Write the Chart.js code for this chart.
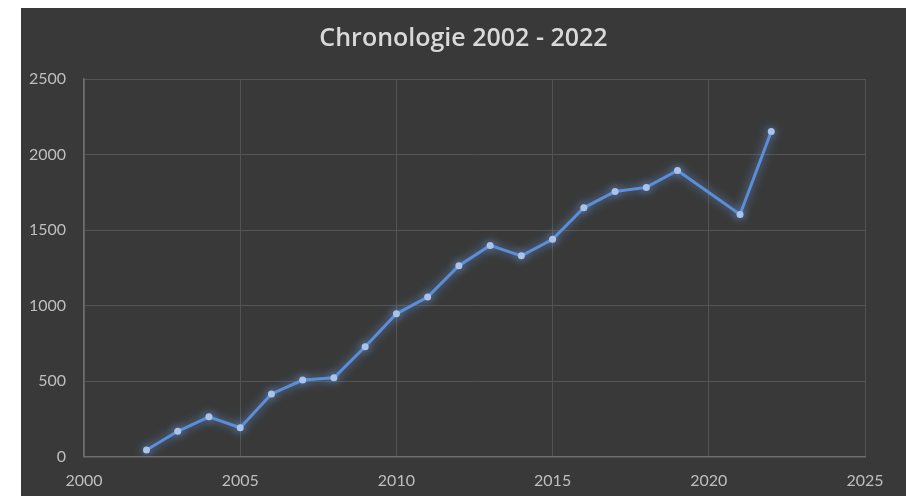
<!DOCTYPE html>
<html>
<head>
<meta charset="utf-8">
<script src="https://cdn.jsdelivr.net/npm/chart.js@4/dist/chart.umd.min.js"></script>
<style>
html,body{margin:0;padding:0;background:#ffffff;}
#wrap{position:absolute;left:21px;top:8px;width:885px;height:488px;background:#393939;}
canvas{display:block;}
</style>
</head>
<body>
<div id="wrap"><canvas id="c" width="885" height="488"></canvas></div>
<script>
const years  = [2002,2003,2004,2005,2006,2007,2008,2009,2010,2011,2012,2013,2014,2015,2016,2017,2018,2019,2020,2021,2022];
const values = [43,167,263,191,414,506,521,727,945,1056,1263,1398,1329,1439,1647,1755,1782,1894,null,1603,2152];
const xTicks = [2000,2005,2010,2015,2020,2025];
const yTicks = [0,500,1000,1500,2000,2500];
const titleText = 'Chronologie 2002 - 2022';

const glow = {
  id:'glow',
  beforeDatasetsDraw(chart){
    const ctx = chart.ctx;
    ctx.save();
    ctx.shadowColor = 'rgba(110,160,235,0.8)';
    ctx.shadowBlur = 10;
  },
  afterDatasetsDraw(chart){ chart.ctx.restore(); }
};

new Chart(document.getElementById('c'), {
  type:'line',
  data:{
    datasets:[{
      data: years.map((y,i)=>({x:y, y:values[i]})),
      borderColor:'#5b8ed8',
      borderWidth:3,
      pointBackgroundColor:'#a9c3ec',
      pointBorderColor:'#a9c3ec',
      pointRadius:3.5,
      pointBorderWidth:0,
      tension:0,
      spanGaps:true
    }]
  },
  options:{
    responsive:false,
    animation:false,
    layout:{padding:0},
    plugins:{
      legend:{display:false},
      tooltip:{enabled:false},
      title:{
        display:true,
        text:titleText,
        color:'#d9d9d9',
        font:{family:'Open Sans', size:25, weight:'600'},
        padding:{top:16,bottom:25}
      }
    },
    scales:{
      x:{
        type:'linear',
        min:2000,max:2025,
        afterBuildTicks(s){ s.ticks = xTicks.map(v=>({value:v})); },
        afterFit(s){ s.height = 39.5; },
        grid:{color:'#545454', drawTicks:false, lineWidth:1},
        border:{color:'#6e6e6e', width:1.5},
        ticks:{color:'#bfbfbf', padding:15, font:{family:'Lato', size:16}, callback:v=>String(v), maxRotation:0}
      },
      y:{
        min:0,max:2500,
        afterBuildTicks(s){ s.ticks = yTicks.map(v=>({value:v})); },
        afterFit(s){ s.width = 63; },
        grid:{color:'#545454', drawTicks:false, lineWidth:1},
        border:{color:'#6e6e6e', width:1.5},
        ticks:{color:'#bfbfbf', padding:18, font:{family:'Lato', size:16}, callback:v=>String(v)}
      },
      yRight:{
        position:'right',
        min:0,max:2500,
        afterFit(s){ s.width = 41; },
        grid:{display:false, drawTicks:false},
        border:{display:false},
        ticks:{display:false}
      }
    }
  },
  plugins:[glow]
});
</script>
</body>
</html>
